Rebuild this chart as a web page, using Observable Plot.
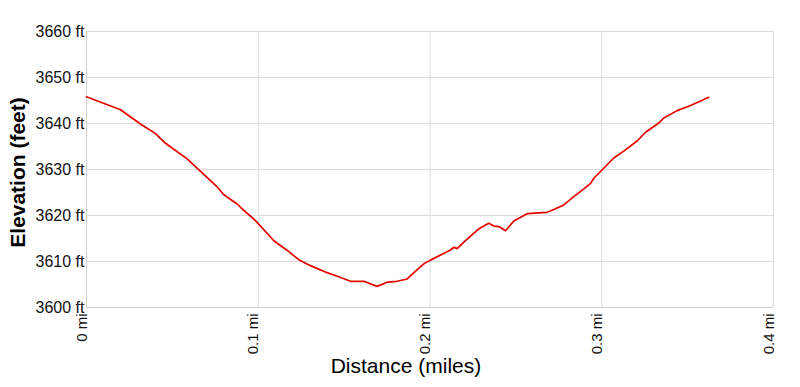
<!DOCTYPE html>
<html>
<head>
<meta charset="utf-8">
<script src="https://cdn.jsdelivr.net/npm/d3@7"></script>
<script src="https://cdn.jsdelivr.net/npm/@observablehq/plot@0.6"></script>
<style>
  html, body { margin: 0; padding: 0; background: #fff; }
  #chart { width: 800px; height: 387px; }
</style>
</head>
<body>
<div id="chart"></div>
<script>
// Distance along the trail (miles)
const distance = [0.0, 0.0198, 0.0314, 0.0402, 0.046, 0.0586, 0.0664, 0.0761, 0.0800, 0.0877, 0.0916, 0.0984, 0.1091, 0.1169, 0.1236, 0.1304, 0.1392, 0.1469, 0.1537, 0.1615, 0.1692, 0.1751, 0.1809, 0.1867, 0.1916, 0.1964, 0.2003, 0.2119, 0.2139, 0.2158, 0.2197, 0.2284, 0.2342, 0.2372, 0.2401, 0.2440, 0.2488, 0.2566, 0.2682, 0.2721, 0.2779, 0.2837, 0.2896, 0.2935, 0.2954, 0.3070, 0.3128, 0.3206, 0.3255, 0.3332, 0.3361, 0.3439, 0.3517, 0.3623];
// Elevation (feet)
const elevation = [3645.8, 3643.0, 3639.9, 3637.8, 3635.7, 3632.3, 3629.6, 3626.2, 3624.5, 3622.5, 3621.1, 3618.9, 3614.5, 3612.4, 3610.4, 3609.1, 3607.7, 3606.7, 3605.7, 3605.7, 3604.6, 3605.5, 3605.7, 3606.2, 3607.9, 3609.5, 3610.3, 3612.5, 3613.1, 3612.8, 3614.2, 3617.1, 3618.3, 3617.7, 3617.6, 3616.7, 3618.8, 3620.4, 3620.7, 3621.3, 3622.3, 3624.1, 3625.8, 3627.0, 3628.1, 3632.5, 3634.0, 3636.2, 3638.1, 3640.1, 3641.2, 3642.8, 3643.9, 3645.7];
const xTicks = [0, 0.1, 0.2, 0.3, 0.4];
const yTicks = [3600, 3610, 3620, 3630, 3640, 3650, 3660];

const data = distance.map((d, i) => ({d, e: elevation[i]}));

const chart = Plot.plot({
  width: 800,
  height: 387,
  marginLeft: 86,
  marginRight: 27,
  marginTop: 31,
  marginBottom: 80,
  style: {fontFamily: "'Liberation Sans', Arial, sans-serif", background: "#fff", color: "#000"},
  x: {domain: [0, 0.4], axis: null},
  y: {domain: [3600, 3660], axis: null},
  marks: [
    Plot.gridX(xTicks, {stroke: "#dcdcdc", strokeOpacity: 1, strokeWidth: 1}),
    Plot.gridY(yTicks, {stroke: "#dcdcdc", strokeOpacity: 1, strokeWidth: 1}),
    Plot.ruleX([0], {stroke: "#cfcfcf"}),
    Plot.ruleY([3600], {stroke: "#cfcfcf"}),
    Plot.text(yTicks, {y: d => d, frameAnchor: "left", textAnchor: "end", dx: -2, text: d => `${d} ft`, fontSize: 16, fill: "#111"}),
    Plot.text(xTicks, {x: d => d, frameAnchor: "bottom", rotate: -90, textAnchor: "end", dy: 6, text: d => `${d} mi`, fontSize: 15, fill: "#111"}),
    Plot.line(data, {x: "d", y: "e", stroke: "#e60000", strokeWidth: 1.7, curve: "linear"}),
    Plot.text(["Elevation (feet)"], {x: () => 0, y: () => 3630, textAnchor: "middle", dx: -68, dy: 3, rotate: -90, fontSize: 21, fontWeight: "bold", fill: "#000"}),
    Plot.text(["Distance (miles)"], {x: () => 0.1860, y: () => 3600, textAnchor: "middle", dy: 59, fontSize: 21, fill: "#000"})
  ]
});
document.getElementById("chart").appendChild(chart);
</script>
</body>
</html>
